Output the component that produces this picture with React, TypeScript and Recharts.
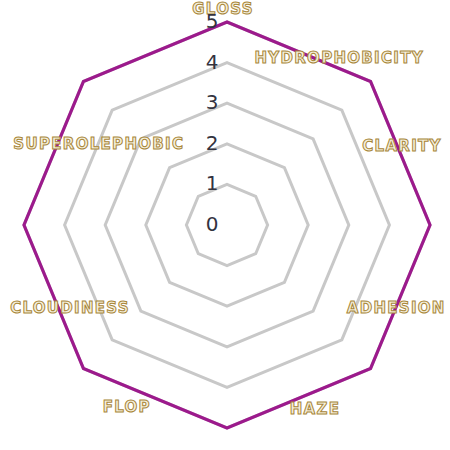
import { RadarChart, Radar, PolarGrid, PolarAngleAxis, PolarRadiusAxis } from 'recharts'

const categories = ['GLOSS', 'HYDROPHOBICITY', 'CLARITY', 'ADHESION', 'HAZE', 'FLOP', 'CLOUDINESS', 'SUPEROLEPHOBIC']
const scores = [5, 5, 5, 5, 5, 5, 5, 5]
const radiusTicks = [0, 1, 2, 3, 4, 5]

// where each label sits relative to the default tick point
const labelNudge: [number, number][] = [
    [-4, -5],
    [-37, -18],
    [-36, -79],
    [20, -66],
    [88, -27],
    [49, 33],
    [54, 83],
    [21, 68],
]

const data = categories.map((axis, i) => ({ axis, score: scores[i] }))

function AngleTick(props: any): React.ReactNode {
    const { x, y, payload, index } = props
    const [dx, dy] = labelNudge[index] ?? [0, 0]
    return (
        <text
            x={x + dx}
            y={y + dy}
            textAnchor="middle"
            dominantBaseline="central"
            fontFamily="DejaVu Sans"
            fontWeight="bold"
            fontSize={15}
            letterSpacing={1.3}
            fill="#f6f0dc"
            stroke="#a8873a"
            strokeWidth={1}
        >
            {payload.value}
        </text>
    )
}

function RadiusTick(props: any): React.ReactNode {
    const { x, y, payload } = props
    return (
        <text
            x={x - 15}
            y={y - 1}
            textAnchor="middle"
            dominantBaseline="central"
            fontFamily="DejaVu Sans"
            fontSize={20}
            fill="#33333f"
        >
            {payload.value}
        </text>
    )
}

export default function App(): React.ReactNode {
    return (
        <div style={{ position: 'absolute', left: 0, top: 0, width: 450, height: 450, background: '#fff' }}>
            <RadarChart
                width={450}
                height={450}
                data={data}
                cx={227}
                cy={225}
                outerRadius={203}
                margin={{ top: 0, right: 0, bottom: 0, left: 0 }}
            >
                <PolarGrid gridType="polygon" radialLines={false} stroke="#c8c8c8" strokeWidth={3} />
                <PolarAngleAxis dataKey="axis" tick={<AngleTick />} tickLine={false} axisLine={false} />
                <PolarRadiusAxis
                    angle={90}
                    domain={[0, 5]}
                    ticks={radiusTicks as any}
                    tickCount={radiusTicks.length}
                    tick={<RadiusTick />}
                    axisLine={false}
                    tickLine={false}
                />
                <Radar
                    dataKey="score"
                    stroke="#9c1a8c"
                    strokeWidth={3.2}
                    fill="none"
                    fillOpacity={0}
                    dot={false}
                    isAnimationActive={false}
                />
            </RadarChart>
        </div>
    )
}
